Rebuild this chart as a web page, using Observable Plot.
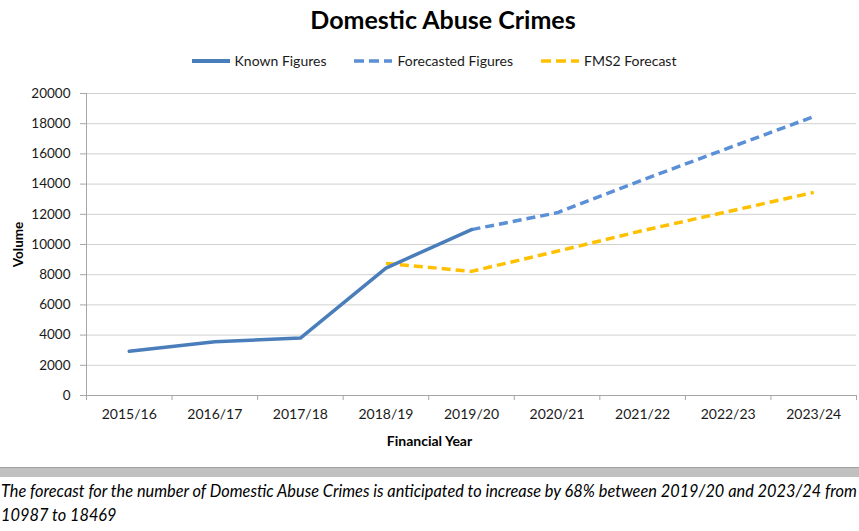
<!DOCTYPE html>
<html>
<head>
<meta charset="utf-8">
<script src="https://cdn.jsdelivr.net/npm/d3@7"></script>
<script src="https://cdn.jsdelivr.net/npm/@observablehq/plot@0.6"></script>
<style>
  body { margin: 0; background: #fff; font-family: Lato, "Open Sans", sans-serif; color: #1a1a1a; }
  #wrap { position: relative; width: 859px; height: 531px; overflow: hidden; background: #fff; }
  #title { position: absolute; top: 4px; left: 0; width: 886px; text-align: center; font-weight: bold; font-size: 25px; color: #000; }
  #legend { position: absolute; top: 52px; left: 0; width: 868px; display: flex; justify-content: center; align-items: center; font-size: 14px; }
  #legend .item { display: flex; align-items: center; margin: 0 14px; }
  #legend svg { margin-right: 5px; }
  #chart { position: absolute; top: 80px; left: 0; }
  #band { position: absolute; top: 467px; left: 0; width: 859px; height: 10px; background: #c0c0c0; border-top: 1px solid #a0a0a0; box-sizing: border-box; }
  #caption { position: absolute; top: 479px; left: 1px; width: 870px; font-style: italic; line-height: 24px; color: #000; white-space: nowrap; }
</style>
</head>
<body>
<div id="wrap">
  <div id="title"></div>
  <div id="legend"></div>
  <div id="chart"></div>
  <div id="band"></div>
  <div id="caption"></div>
</div>
<script>
// ---- data ----
const titleText = "Domestic Abuse Crimes";
const years = ["2015/16", "2016/17", "2017/18", "2018/19", "2019/20", "2020/21", "2021/22", "2022/23", "2023/24"];
const knownYears = ["2015/16", "2016/17", "2017/18", "2018/19", "2019/20"];
const knownValues = [2930, 3560, 3800, 8440, 10987];
const forecastYears = ["2019/20", "2020/21", "2021/22", "2022/23", "2023/24"];
const forecastValues = [10987, 12100, 14280, 16380, 18469];
const fmsYears = ["2018/19", "2019/20", "2020/21", "2021/22", "2022/23", "2023/24"];
const fmsValues = [8750, 8220, 9550, 10920, 12180, 13450];
const yTicks = [0, 2000, 4000, 6000, 8000, 10000, 12000, 14000, 16000, 18000, 20000];
const seriesNames = ["Known Figures", "Forecasted Figures", "FMS2 Forecast"];
const xLabel = "Financial Year";
const yLabel = "Volume";
const captionLines = [
  "The forecast for the number of Domestic Abuse Crimes is anticipated to increase by 68% between 2019/20 and 2023/24 from",
  "10987 to 18469"
];

// ---- styles ----
const colors = ["#4a7ebb", "#5b8fd6", "#ffc000"];
const dashes = [null, "9,5", "9,5"];

document.getElementById("title").textContent = titleText;

// legend
const legend = document.getElementById("legend");
seriesNames.forEach((name, i) => {
  const item = document.createElement("div");
  item.className = "item";
  const dash = dashes[i] ? `stroke-dasharray="10,5"` : "";
  item.innerHTML = `<svg width="38" height="8"><line x1="0" y1="4" x2="38" y2="4" stroke="${colors[i]}" stroke-width="${i === 0 ? 4 : 3.5}" ${dash}/></svg><span></span>`;
  item.querySelector("span").textContent = name;
  legend.appendChild(item);
});

const idx = y => years.indexOf(y);
const toRows = (ys, vs) => ys.map((y, i) => ({i: idx(y), v: vs[i]}));
const boundaries = d3.range(years.length + 1).map(i => i - 0.5);

const chart = Plot.plot({
  width: 859,
  height: 375,
  marginTop: 13,
  marginBottom: 60,
  marginLeft: 86,
  marginRight: 3,
  style: {fontFamily: "Lato, 'Open Sans', sans-serif", fontSize: "13px", color: "#1a1a1a", background: "transparent"},
  x: {type: "linear", domain: [-0.5, years.length - 0.5], label: null},
  y: {domain: [0, 20000], label: null},
  marks: [
    Plot.gridY(yTicks, {stroke: "#d0d0d0", strokeOpacity: 1}),
    Plot.ruleX([-0.5], {stroke: "#a6a6a6"}),
    Plot.ruleY([0], {stroke: "#a6a6a6"}),
    Plot.axisY(yTicks, {tickSize: 6, tickPadding: 10, tickFormat: d3.format("d"), stroke: "#a6a6a6", label: null, fontSize: 13.5}),
    Plot.axisX(boundaries, {tickSize: 5, tickFormat: () => "", stroke: "#a6a6a6", label: null}),
    Plot.axisX(d3.range(years.length), {tickSize: 0, tickPadding: 14, tickFormat: i => years[i], label: null, fontSize: 14}),
    Plot.text([yLabel], {frameAnchor: "left", dx: -68, rotate: -90, fontWeight: "bold", fontSize: 13.5, textAnchor: "middle", lineAnchor: "middle", fill: "#000"}),
    Plot.text([xLabel], {frameAnchor: "bottom", dx: -42, dy: 46, fontWeight: "bold", fontSize: 14, textAnchor: "middle", lineAnchor: "middle", fill: "#000"}),
    Plot.line(toRows(fmsYears, fmsValues), {x: "i", y: "v", stroke: colors[2], strokeWidth: 3.5, strokeDasharray: dashes[2], strokeLinecap: "butt"}),
    Plot.line(toRows(forecastYears, forecastValues), {x: "i", y: "v", stroke: colors[1], strokeWidth: 3.5, strokeDasharray: dashes[1], strokeLinecap: "butt"}),
    Plot.line(toRows(knownYears, knownValues), {x: "i", y: "v", stroke: colors[0], strokeWidth: 3.5})
  ]
});
document.getElementById("chart").appendChild(chart);

// caption
const cap = document.getElementById("caption");
captionLines.forEach(line => {
  const d = document.createElement("div");
  const s = document.createElement("span");
  s.textContent = line;
  d.appendChild(s);
  cap.appendChild(d);
});
// fit first line to the page width
let fs = 16;
cap.style.fontSize = fs + "px";
const w = cap.querySelector("span").getBoundingClientRect().width;
if (w > 0) { fs = fs * 856 / w; cap.style.fontSize = fs.toFixed(2) + "px"; }
</script>
</body>
</html>
